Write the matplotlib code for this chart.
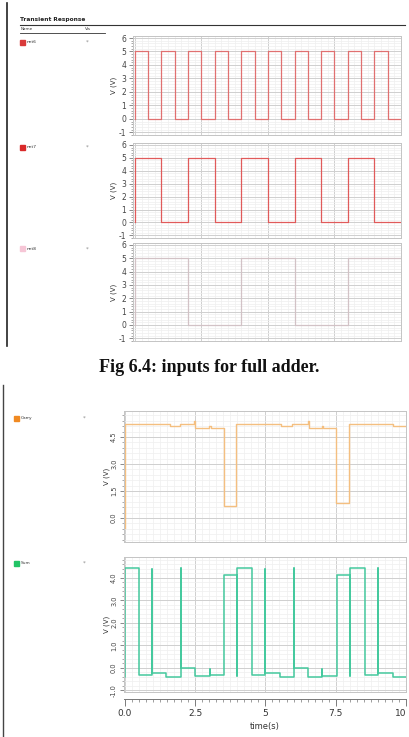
import matplotlib
matplotlib.use("Agg")
import matplotlib.pyplot as plt
from matplotlib.ticker import MultipleLocator, FixedLocator
from matplotlib.lines import Line2D
from matplotlib.patches import Rectangle

# ---------------- data ----------------
net6_t = [0.0, 0.0, 0.5, 1.0, 1.5, 2.0, 2.5, 3.0, 3.5, 4.0, 4.5, 5.0, 5.5, 6.0, 6.5, 7.0, 7.5, 8.0, 8.5, 9.0, 9.5, 10.0]
net6_v = [0, 5, 0, 5, 0, 5, 0, 5, 0, 5, 0, 5, 0, 5, 0, 5, 0, 5, 0, 5, 0, 0]
net7_t = [0.0, 0.0, 1.0, 2.0, 3.0, 4.0, 5.0, 6.0, 7.0, 8.0, 9.0, 10.0]
net7_v = [0, 5, 0, 5, 0, 5, 0, 5, 0, 5, 0, 0]
net8_t = [0.0, 0.0, 2.0, 4.0, 6.0, 8.0, 10.0]
net8_v = [0, 5, 0, 5, 0, 5, 5]

carry_pts = [(0.0, -0.57), (0.0, 5.2), (1.60, 5.2), (1.60, 5.08), (1.96, 5.08), (1.96, 5.2),
             (2.47, 5.2), (2.47, 5.4), (2.50, 5.4), (2.50, 4.98), (3.00, 4.98), (3.00, 5.12),
             (3.05, 5.12), (3.05, 4.98), (3.52, 4.98), (3.52, 0.67), (3.97, 0.67), (3.97, 5.2),
             (5.57, 5.2), (5.57, 5.08), (5.93, 5.08), (5.93, 5.2), (6.52, 5.2), (6.52, 5.4),
             (6.55, 5.4), (6.55, 4.98), (7.00, 4.98), (7.00, 5.12), (7.05, 5.12), (7.05, 4.98),
             (7.51, 4.98), (7.51, 0.81), (7.98, 0.81), (7.98, 5.2), (9.55, 5.2), (9.55, 5.12),
             (10.0, 5.12)]

sum_pts = [(0.0, -0.39), (0.0, 4.43), (0.51, 4.43), (0.51, -0.31), (0.98, -0.31), (0.98, 4.39),
           (0.98, -0.21), (1.48, -0.21), (1.48, -0.42), (1.98, -0.42), (1.98, 4.43), (1.98, 0.0),
           (2.49, 0.0), (2.49, -0.36), (3.02, -0.36), (3.02, -0.04), (3.02, -0.33), (3.52, -0.33),
           (3.52, 4.13), (4.0, 4.13), (4.0, -0.36), (4.0, 4.46), (4.51, 4.46), (4.51, -0.31),
           (5.0, -0.31), (5.0, 4.39), (5.0, -0.21), (5.52, -0.21), (5.52, -0.42), (6.01, -0.42),
           (6.01, 4.43), (6.01, 0.0), (6.52, 0.0), (6.52, -0.39), (7.03, -0.39), (7.03, -0.04),
           (7.03, -0.36), (7.53, -0.36), (7.53, 4.13), (8.0, 4.13), (8.0, -0.36), (8.0, 4.46),
           (8.54, 4.46), (8.54, -0.31), (9.02, -0.31), (9.02, 4.43), (9.02, -0.24), (9.53, -0.24),
           (9.53, -0.42), (10.0, -0.42)]

top_names = ["net6", "net7", "net8"]
bottom_names = ["Carry", "Sum"]
x_ticks = [0.0, 2.5, 5.0, 7.5, 10.0]
x_ticklabels = ["0.0", "2.5", "5", "7.5", "10"]
caption = "Fig 6.4: inputs for full adder."

# ---------------- figure ----------------
W, H = 409, 737
fig = plt.figure(figsize=(W / 100, H / 100), dpi=100)
fig.patch.set_facecolor("white")


def px_axes(l, t, r, b):
    return fig.add_axes([l / W, 1 - b / H, (r - l) / W, (b - t) / H])


def fx(x):
    return x / W


def fy(y):
    return 1 - y / H


GRID_MAJ = "#cfcfcf"
GRID_MIN = "#efefef"
SPINE = "#c4c4c4"


def style_axes(ax, ylim, ymaj, ymin, xlim, xmin=0.25, rot_labels=False, lbl_fmt="{:g}"):
    ax.set_xlim(*xlim)
    ax.set_ylim(*ylim)
    ax.xaxis.set_major_locator(MultipleLocator(2.5))
    ax.xaxis.set_minor_locator(MultipleLocator(xmin))
    ax.yaxis.set_major_locator(MultipleLocator(ymaj))
    ax.yaxis.set_minor_locator(MultipleLocator(ymin))
    ax.grid(True, which="major", color=GRID_MAJ, lw=0.7)
    ax.grid(True, which="minor", color=GRID_MIN, lw=0.5)
    ax.set_axisbelow(True)
    for s in ax.spines.values():
        s.set_color(SPINE)
        s.set_linewidth(0.7)
    ax.tick_params(axis="x", which="both", length=0, labelbottom=False)
    ax.tick_params(axis="y", which="major", length=3, width=0.6, color="#777777",
                   labelsize=5.5, labelcolor="#444444", pad=2)
    ax.tick_params(axis="y", which="minor", length=1.6, width=0.5, color="#888888")
    ax.yaxis.set_major_formatter(plt.FuncFormatter(lambda v, p: lbl_fmt.format(v)))
    if rot_labels:
        for lab in ax.get_yticklabels():
            lab.set_rotation(90)
            lab.set_va("center")
        ax.tick_params(axis="y", labelsize=4.8)
    ax.set_ylabel("V (V)", fontsize=5, color="#333333", labelpad=1)


# top panels
top_boxes = [(133, 36, 401, 135), (133, 143, 401, 238), (133, 243, 401, 341)]
top_data = [(net6_t, net6_v, "#e07070"), (net7_t, net7_v, "#e05a5a"), (net8_t, net8_v, "#d2c2c6")]
legend_cols = ["#d93a3a", "#d92a2a", "#f6c6d6"]
legend_y = [42, 147, 249]
for box, (tt, vv, col), nm, lc, ly in zip(top_boxes, top_data, top_names, legend_cols, legend_y):
    ax = px_axes(*box)
    style_axes(ax, (-1.2, 6.15), 1, 0.2, (-0.07, 10.0))
    ax.plot(tt, vv, drawstyle="steps-post", color=col, lw=0.9)
    fig.patches.append(Rectangle((fx(20), fy(ly + 2.5)), 5 / W, 5 / H, transform=fig.transFigure,
                                 color=lc, zorder=5))
    fig.text(fx(26.5), fy(ly), nm, fontsize=3.2, color="#333333", va="center")
    fig.text(fx(87), fy(ly), "*", fontsize=4, color="#888888", va="center", ha="center")

# bottom panels
ax4 = px_axes(124, 411, 406, 542)
style_axes(ax4, (-1.33, 5.94), 1.5, 0.3, (-0.03, 10.0), rot_labels=True, lbl_fmt="{:.1f}")
cx, cv = zip(*carry_pts)
ax4.plot(cx, cv, color="#f4bf80", lw=1.0)

ax5 = px_axes(124, 557, 406, 692)
style_axes(ax5, (-1.07, 4.93), 1.0, 0.2, (-0.03, 10.0), rot_labels=True, lbl_fmt="{:.1f}")
sx, sv = zip(*sum_pts)
ax5.plot(sx, sv, color="#45c99e", lw=1.1)

# bottom axis ruler for the last panel
ax5.spines["bottom"].set_position(("outward", 5))
ax5.spines["bottom"].set_color("#777777")
ax5.plot([0, 1], [0, 0], transform=ax5.transAxes, color=SPINE, lw=0.7, clip_on=False)
ax5.xaxis.set_major_locator(FixedLocator(x_ticks))
ax5.set_xticklabels(x_ticklabels)
ax5.tick_params(axis="x", which="major", length=5, width=0.6, color="#666666",
                labelbottom=True, labelsize=6.5, labelcolor="#333333", pad=2)
ax5.tick_params(axis="x", which="minor", length=2.5, width=0.5, color="#777777")
ax5.get_xticklabels()[-1].set_ha("right")
ax5.set_xlabel("time(s)", fontsize=6, color="#333333", labelpad=3)

for nm, lc, ly in zip(bottom_names, ["#f08a22", "#22c466"], [418, 563]):
    fig.patches.append(Rectangle((fx(14), fy(ly + 2.5)), 5 / W, 5 / H, transform=fig.transFigure,
                                 color=lc, zorder=5))
    fig.text(fx(20.5), fy(ly), nm, fontsize=3.2, color="#333333", va="center")
    fig.text(fx(84), fy(ly), "*", fontsize=4, color="#888888", va="center", ha="center")

# header texts / lines of the top screenshot
fig.text(fx(20), fy(20), "Transient Response", fontsize=4.2, fontweight="bold", color="#222222", va="center")
fig.add_artist(Line2D([fx(20), fx(405)], [fy(24.5), fy(24.5)], color="#333333", lw=0.8))
fig.text(fx(21), fy(29.5), "Name", fontsize=3, color="#333333", va="center")
fig.text(fx(85), fy(29.5), "Vis", fontsize=3, color="#333333", va="center")
fig.add_artist(Line2D([fx(20), fx(105)], [fy(33), fy(33)], color="#333333", lw=0.6))

# left border lines of the screenshots
fig.add_artist(Line2D([fx(7), fx(7)], [fy(3), fy(346)], color="#222222", lw=1.2))
fig.add_artist(Line2D([fx(3), fx(3)], [fy(385), fy(737)], color="#444444", lw=1.0))

# caption
fig.text(fx(209), fy(368), caption, fontsize=13, fontweight="bold",
         family=["Liberation Serif", "DejaVu Serif"], ha="center", va="center", color="#111111")

fig.savefig("out.png", dpi=100, facecolor="white")
